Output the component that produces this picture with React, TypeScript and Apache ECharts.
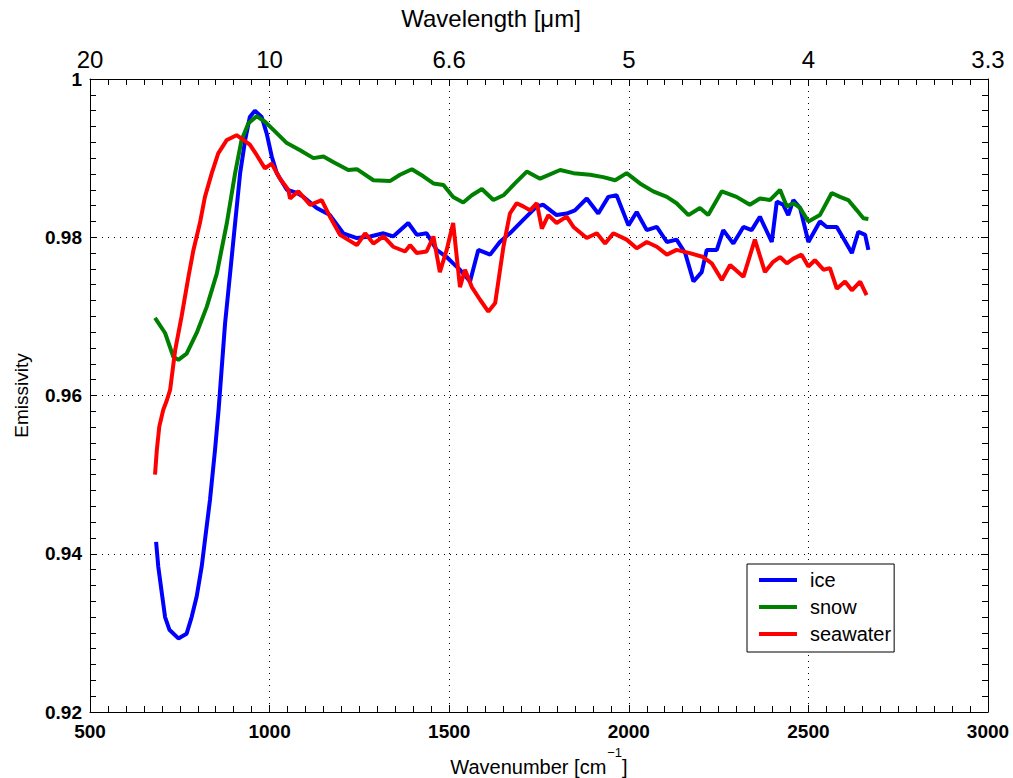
import React, { useEffect, useRef } from 'react';
import * as echarts from 'echarts';

// Axis ticks
const wavenumberTicks = [500, 1000, 1500, 2000, 2500, 3000];
const wavelengthLabels = ['20', '10', '6.6', '5', '4', '3.3'];
const seriesNames = ['ice', 'snow', 'seawater'];
const seriesColors = ['#0000ff', '#008000', '#ff0000'];

// ice
const iceWavenumber = [684, 690, 700, 709, 721, 746, 769, 783, 797, 811, 820, 834, 848, 858, 876, 890, 904, 918, 932, 945, 959, 978, 992, 1006, 1020, 1048, 1076, 1094, 1131, 1168, 1205, 1243, 1280, 1317, 1344, 1386, 1410, 1437, 1465, 1493, 1511, 1530, 1558, 1581, 1614, 1641, 1669, 1706, 1744, 1762, 1799, 1827, 1850, 1883, 1915, 1943, 1966, 1999, 2022, 2050, 2078, 2106, 2133, 2157, 2180, 2203, 2217, 2245, 2263, 2291, 2319, 2342, 2365, 2398, 2412, 2430, 2444, 2458, 2477, 2500, 2532, 2551, 2579, 2597, 2621, 2639, 2658, 2667];
const iceEmissivity = [0.9415, 0.9384, 0.9350, 0.9320, 0.9304, 0.9293, 0.9299, 0.9320, 0.9346, 0.9384, 0.9417, 0.9468, 0.9531, 0.9582, 0.9691, 0.9754, 0.9818, 0.9881, 0.9923, 0.9952, 0.9960, 0.9952, 0.9931, 0.9902, 0.9881, 0.9860, 0.9856, 0.9851, 0.9837, 0.9828, 0.9805, 0.9799, 0.9801, 0.9805, 0.9801, 0.9818, 0.9803, 0.9805, 0.9784, 0.9775, 0.9767, 0.9759, 0.9744, 0.9784, 0.9778, 0.9794, 0.9805, 0.9822, 0.9839, 0.9841, 0.9828, 0.9830, 0.9834, 0.9849, 0.9830, 0.9851, 0.9853, 0.9815, 0.9832, 0.9809, 0.9813, 0.9794, 0.9797, 0.9780, 0.9744, 0.9756, 0.9784, 0.9784, 0.9809, 0.9792, 0.9813, 0.9809, 0.9826, 0.9794, 0.9845, 0.9841, 0.9828, 0.9847, 0.9837, 0.9794, 0.9820, 0.9813, 0.9813, 0.9799, 0.9780, 0.9807, 0.9803, 0.9784];

// snow
const snowWavenumber = [681, 709, 732, 746, 769, 797, 825, 853, 881, 904, 922, 941, 964, 987, 1010, 1048, 1085, 1122, 1150, 1177, 1219, 1243, 1289, 1335, 1363, 1396, 1428, 1456, 1484, 1511, 1539, 1563, 1591, 1623, 1651, 1683, 1716, 1753, 1809, 1846, 1892, 1929, 1962, 1994, 2031, 2068, 2106, 2133, 2166, 2198, 2221, 2259, 2300, 2337, 2365, 2393, 2421, 2440, 2458, 2477, 2500, 2532, 2565, 2588, 2611, 2635, 2653, 2667];
const snowEmissivity = [0.9698, 0.9679, 0.9649, 0.9645, 0.9653, 0.9679, 0.9712, 0.9754, 0.9818, 0.9881, 0.9923, 0.9944, 0.9953, 0.9946, 0.9936, 0.9919, 0.9910, 0.9900, 0.9902, 0.9895, 0.9885, 0.9886, 0.9872, 0.9871, 0.9879, 0.9886, 0.9877, 0.9868, 0.9866, 0.9851, 0.9844, 0.9853, 0.9861, 0.9847, 0.9853, 0.9868, 0.9883, 0.9874, 0.9885, 0.9881, 0.9879, 0.9876, 0.9872, 0.9881, 0.9868, 0.9858, 0.9851, 0.9843, 0.9828, 0.9837, 0.9828, 0.9858, 0.9851, 0.9841, 0.9849, 0.9847, 0.9860, 0.9839, 0.9843, 0.9837, 0.9820, 0.9828, 0.9856, 0.9851, 0.9847, 0.9834, 0.9824, 0.9823];

// seawater
const seawaterWavenumber = [681, 686, 693, 704, 714, 723, 737, 755, 774, 788, 806, 820, 839, 857, 881, 908, 927, 945, 964, 987, 1006, 1029, 1052, 1057, 1080, 1113, 1145, 1168, 1196, 1243, 1266, 1289, 1317, 1344, 1377, 1391, 1410, 1437, 1456, 1474, 1493, 1511, 1530, 1544, 1563, 1586, 1609, 1628, 1651, 1669, 1688, 1706, 1725, 1744, 1758, 1776, 1799, 1827, 1846, 1883, 1911, 1934, 1957, 1994, 2022, 2050, 2078, 2106, 2133, 2170, 2207, 2231, 2259, 2282, 2319, 2351, 2379, 2402, 2421, 2440, 2458, 2481, 2500, 2518, 2542, 2560, 2579, 2602, 2621, 2644, 2662];
const seawaterEmissivity = [0.9500, 0.9531, 0.9561, 0.9582, 0.9594, 0.9607, 0.9657, 0.9700, 0.9750, 0.9784, 0.9818, 0.9851, 0.9881, 0.9906, 0.9923, 0.9929, 0.9923, 0.9917, 0.9904, 0.9887, 0.9893, 0.9874, 0.9860, 0.9849, 0.9858, 0.9841, 0.9847, 0.9826, 0.9803, 0.9790, 0.9805, 0.9792, 0.9801, 0.9788, 0.9782, 0.9790, 0.9780, 0.9782, 0.9801, 0.9756, 0.9784, 0.9818, 0.9737, 0.9759, 0.9737, 0.9721, 0.9706, 0.9717, 0.9788, 0.9830, 0.9843, 0.9839, 0.9834, 0.9843, 0.9811, 0.9828, 0.9818, 0.9826, 0.9813, 0.9799, 0.9805, 0.9792, 0.9805, 0.9797, 0.9786, 0.9794, 0.9788, 0.9778, 0.9784, 0.9780, 0.9775, 0.9767, 0.9746, 0.9765, 0.9750, 0.9797, 0.9756, 0.9769, 0.9775, 0.9767, 0.9773, 0.9778, 0.9763, 0.9771, 0.9759, 0.9761, 0.9735, 0.9744, 0.9733, 0.9744, 0.9727];

const FONT = '"Liberation Sans", Arial, Helvetica, sans-serif';

function zip(xs: number[], ys: number[]) {
  return xs.map((x, i) => [x, ys[i]]);
}

export default function App() {
  const ref = useRef<HTMLDivElement>(null);
  useEffect(() => {
    const chart = echarts.init(ref.current as HTMLDivElement, null, { renderer: 'svg' });
    const black = '#000';
    const tickCommon = {
      axisLine: { show: true, lineStyle: { color: black, width: 1 } },
      axisTick: { show: true, inside: true, length: 7, lineStyle: { color: black, width: 1 } },
      minorTick: { show: true, splitNumber: 10, length: 6, lineStyle: { color: black, width: 1 } },
    };
    const data = [
      zip(iceWavenumber, iceEmissivity),
      zip(snowWavenumber, snowEmissivity),
      zip(seawaterWavenumber, seawaterEmissivity),
    ];
    chart.setOption({
      animation: false,
      backgroundColor: '#fff',
      textStyle: { fontFamily: FONT, color: black },
      grid: { left: 90, right: 25, top: 79, bottom: 66, containLabel: false, outerBoundsMode: 'none' },
      graphic: [
        {
          type: 'text',
          x: 491,
          y: 18,
          style: {
            text: 'Wavelength [μm]',
            fontSize: 24,
            fontFamily: FONT,
            fill: black,
            align: 'center',
            verticalAlign: 'middle',
          },
        },
      ],
      legend: {
        orient: 'vertical',
        left: 747,
        top: 564,
        data: seriesNames,
        icon: 'rect',
        itemWidth: 38,
        itemHeight: 4,
        itemGap: 7,
        padding: [6, 3, 8, 12],
        borderColor: black,
        borderWidth: 1,
        borderRadius: 0,
        backgroundColor: '#fff',
        textStyle: { fontSize: 20, color: black, fontFamily: FONT, padding: [0, 0, 0, 8] },
      },
      xAxis: [
        {
          type: 'value',
          position: 'bottom',
          min: wavenumberTicks[0],
          max: wavenumberTicks[wavenumberTicks.length - 1],
          interval: 500,
          name: '{m|Wavenumber [cm}{sup|−1}{m|]}',
          nameLocation: 'middle',
          nameGap: 28,
          nameTextStyle: {
            fontSize: 20,
            color: black,
            fontFamily: FONT,
            rich: {
              m: { fontSize: 20, lineHeight: 20, fontFamily: FONT, color: black, verticalAlign: 'middle' },
              sup: {
                fontSize: 13,
                lineHeight: 13,
                fontFamily: FONT,
                color: black,
                verticalAlign: 'middle',
                padding: [0, 0, 30, 1],
              },
            },
          },
          ...tickCommon,
          axisLabel: {
            fontSize: 19,
            fontWeight: 'bold',
            color: black,
            margin: 10,
            fontFamily: FONT,
            formatter: (v: number) => String(v),
          },
          splitLine: { show: true, lineStyle: { type: [1, 5], color: black, width: 1 } },
        },
        {
          type: 'value',
          position: 'top',
          min: wavenumberTicks[0],
          max: wavenumberTicks[wavenumberTicks.length - 1],
          interval: 500,
          ...tickCommon,
          axisLabel: {
            fontSize: 24,
            color: black,
            margin: 8,
            fontFamily: FONT,
            formatter: (v: number) => {
              const i = wavenumberTicks.indexOf(Math.round(v));
              return i >= 0 ? wavelengthLabels[i] : '';
            },
          },
          splitLine: { show: false },
        },
      ],
      yAxis: [
        {
          type: 'value',
          position: 'left',
          min: 0.92,
          max: 1,
          interval: 0.02,
          name: 'Emissivity',
          nameLocation: 'middle',
          nameGap: 59,
          nameTextStyle: { fontSize: 19, color: black, fontFamily: FONT },
          ...tickCommon,
          axisLabel: {
            fontSize: 19,
            fontWeight: 'bold',
            color: black,
            margin: 8,
            fontFamily: FONT,
            formatter: (v: number) => (Math.abs(v - 1) < 1e-9 ? '1' : v.toFixed(2)),
          },
          splitLine: { show: true, lineStyle: { type: [1, 5], color: black, width: 1 } },
        },
        {
          type: 'value',
          position: 'right',
          min: 0.92,
          max: 1,
          interval: 0.02,
          ...tickCommon,
          axisLabel: { show: false },
          splitLine: { show: false },
        },
      ],
      series: seriesNames.map((name, i) => ({
        name,
        type: 'line',
        xAxisIndex: 0,
        yAxisIndex: 0,
        showSymbol: false,
        symbol: 'none',
        color: seriesColors[i],
        lineStyle: { width: 4, color: seriesColors[i] },
        data: data[i],
      })),
    });
    return () => chart.dispose();
  }, []);
  return (
    <div
      ref={ref}
      style={{ position: 'absolute', left: 0, top: 0, width: 1013, height: 778, background: '#fff' }}
    />
  );
}
